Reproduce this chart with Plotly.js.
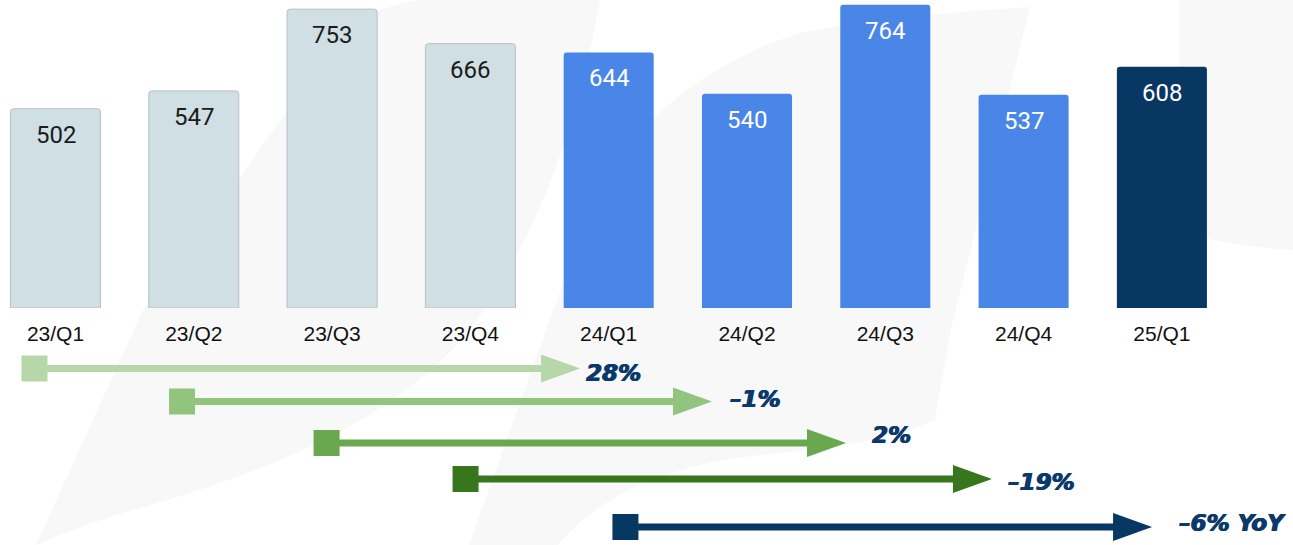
<!DOCTYPE html>
<html>
<head>
<meta charset="utf-8">
<script src="https://cdn.plot.ly/plotly-3.0.1.min.js"></script>
<style>
html,body{margin:0;padding:0;background:#fff;}
#chart{width:1293px;height:545px;}
</style>
</head>
<body>
<div id="chart"></div>
<script>
// ---- data ----
const categories = ['23/Q1','23/Q2','23/Q3','23/Q4','24/Q1','24/Q2','24/Q3','24/Q4','25/Q1'];
const values = [502, 547, 753, 666, 644, 540, 764, 537, 608];
const yoyFrom = [0, 1, 2, 3, 4];
const yoyTo = [4, 5, 6, 7, 8];
const yoyLabels = ['28%', '–1%', '2%', '–19%', '–6% YoY'];

// ---- style ----
const W = 1293, H = 545;
const PITCH = 138.3;               // px per category
const yearColor = {'23': '#cfdfe3', '24': '#4a86e8', '25': '#083763'};
const yearText = {'23': '#1b1b1b', '24': '#ffffff', '25': '#ffffff'};
const arrowColors = ['#b6d7a8', '#93c47d', '#6aa84f', '#38761d', '#073763'];
const arrowRowY = [368.5, 401.5, 443, 479, 527];
const startShift = [-0.152, -0.085, -0.04, -0.035, 0.121];
const endShift = [-0.207, -0.253, -0.284, -0.229, -0.071];
const labelGap = [4, 16, 24, 14, 25];
const labelDy = [4, -3, -8, 3, -4];

const idx = categories.map((c, i) => i);
const years = categories.map(c => c.split('/')[0]);

const bars = {
  type: 'bar',
  x: idx,
  y: values,
  width: 0.651,
  marker: {
    color: years.map(y => yearColor[y]),
    line: {color: years.map(y => y === '23' ? '#b8c1c5' : yearColor[y]), width: years.map(y => y === '23' ? 1 : 0)},
    cornerradius: 3
  },
  hoverinfo: 'skip',
  xaxis: 'x', yaxis: 'y'
};

const annotations = [];
values.forEach((v, i) => {
  annotations.push({
    x: i, y: v, xref: 'x', yref: 'y',
    text: String(v), showarrow: false,
    xanchor: 'center', yanchor: 'middle', yshift: -26,
    font: {family: 'Roboto', size: 24, color: yearText[years[i]]}
  });
});

const shapes = [];
// faint watermark (background decoration), px -> paper
function px(path) {
  return path.replace(/(-?\d+(?:\.\d+)?),(-?\d+(?:\.\d+)?)/g, (m, a, b) =>
    (parseFloat(a) / W).toFixed(5) + ',' + (1 - parseFloat(b) / H).toFixed(5));
}
const wm = '#f8f8f9';
[
  'M 36,545 L 143,310 L 238,180 L 330,50 Q 360,8 420,0 L 600,0 Q 565,200 470,330 Q 380,440 150,505 Q 80,525 36,545 Z',
  'M 469,545 L 558,545 Q 620,470 760,455 Q 880,445 935,420 L 950,333 L 1030,7 Q 900,15 800,33 Q 680,70 600,180 Z',
  'M 1179,0 L 1293,0 L 1293,250 Q 1230,246 1200,236 Q 1179,226 1179,200 Z'
].forEach(p => shapes.push({type: 'path', xref: 'paper', yref: 'paper', path: px(p),
  fillcolor: wm, line: {width: 0}, layer: 'below'}));

// YoY arrows
const sqHalf = 13 / PITCH, headLen = 39 / PITCH, headHalf = 14;
yoyFrom.forEach((f, k) => {
  const s = f + startShift[k];
  const tip = yoyTo[k] + endShift[k];
  const yv = arrowRowY[k];
  const c = arrowColors[k];
  shapes.push({type: 'line', xref: 'x', yref: 'y2', x0: s, x1: tip - headLen + 0.01, y0: yv, y1: yv,
    line: {color: c, width: 7}});
  shapes.push({type: 'rect', xref: 'x', yref: 'y2', x0: s - sqHalf, x1: s + sqHalf, y0: yv - 13, y1: yv + 13,
    fillcolor: c, line: {width: 0}});
  shapes.push({type: 'path', xref: 'x', yref: 'y2',
    path: `M ${tip - headLen},${yv - headHalf} L ${tip},${yv} L ${tip - headLen},${yv + headHalf} Z`,
    fillcolor: c, line: {width: 0}});
  annotations.push({
    x: tip, y: yv, xref: 'x', yref: 'y2', text: yoyLabels[k], showarrow: false,
    xanchor: 'left', yanchor: 'middle', xshift: labelGap[k], yshift: -labelDy[k],
    font: {family: 'DejaVu Sans', size: 23, color: '#0b3a6a', weight: 700, style: 'italic',
           shadow: '0.7px 0 0 #0b3a6a, -0.4px 0 0 #0b3a6a'}
  });
});

const split = 237 / H;
const layout = {
  width: W, height: H,
  margin: {l: 0, r: 0, t: 0, b: 0, pad: 0},
  paper_bgcolor: '#ffffff',
  plot_bgcolor: 'rgba(0,0,0,0)',
  showlegend: false,
  xaxis: {
    range: [-55.5 / PITCH, (W - 55.5) / PITCH],
    tickvals: idx, ticktext: categories,
    showgrid: false, zeroline: false, showline: false, ticks: '',
    tickfont: {family: 'Liberation Sans', size: 21, color: '#111111'},
    ticklabelstandoff: 11,
    anchor: 'y', automargin: false, fixedrange: true
  },
  yaxis: {
    domain: [split, 1], range: [0, 776],
    visible: false, showgrid: false, zeroline: false, fixedrange: true
  },
  yaxis2: {
    domain: [0, split], range: [H, H - 237],
    visible: false, showgrid: false, zeroline: false, fixedrange: true, anchor: 'x'
  },
  shapes: shapes,
  annotations: annotations
};

Plotly.newPlot('chart', [bars], layout, {displayModeBar: false, staticPlot: true});
</script>
</body>
</html>
